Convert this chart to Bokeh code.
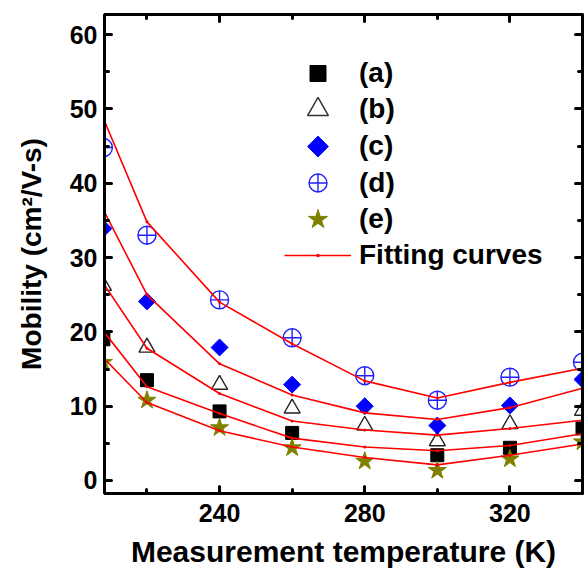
import numpy as np
from bokeh.plotting import figure
from bokeh.models import (LinearAxis, SingleIntervalTicker, Legend, LegendItem,
                          Range1d, ColumnDataSource, CustomLabelingPolicy)
from bokeh.embed import file_html
from bokeh.resources import INLINE

try:
    from bokeh.models import Ngon
except ImportError:
    Ngon = None

# ---- data ----
temperature = [208, 220, 240, 260, 280, 300, 320, 340]
mob_a = [19.0, 13.5, 9.3, 6.4, np.nan, 3.4, 4.4, 7.0]
mob_b = [26.2, 17.9, 12.9, 9.7, 7.4, 5.3, 7.6, 9.4]
mob_c = [33.9, 24.1, 17.9, 12.9, 10.0, 7.4, 10.1, 13.6]
mob_d = [44.8, 33.0, 24.3, 19.2, 14.1, 10.8, 13.9, 15.9]
mob_e = [15.9, 10.8, 7.1, 4.4, 2.6, 1.35, 2.9, 5.2]
fit_a = [20.1, 12.6, 9.0, 5.7, 4.5, 4.0, 4.7, 6.3]
fit_b = [26.5, 17.8, 11.7, 8.0, 6.8, 6.1, 7.0, 8.1]
fit_c = [36.4, 25.0, 15.7, 11.5, 9.1, 8.2, 9.8, 12.4]
fit_d = [48.7, 34.8, 24.0, 18.4, 13.4, 11.1, 13.2, 15.1]
fit_e = [16.5, 10.5, 6.7, 4.5, 3.1, 2.1, 3.4, 4.9]
series_labels = ["(a)", "(b)", "(c)", "(d)", "(e)"]
fit_label = "Fitting curves"
x_title = "Measurement temperature (K)"
y_title = "Mobility (cm\u00b2/V-s)"

FONT = "Liberation Sans"
FRAME_BOTTOM = 493  # px from top of the figure (571 - 78)

p = figure(width=584, height=571, output_backend="svg", toolbar_location=None,
           x_range=Range1d(208.3, 340.0), y_range=Range1d(-1.75, 62.7),
           min_border_left=104, min_border_right=2, min_border_top=14,
           min_border_bottom=78, x_axis_location=None, y_axis_location=None)
p.xgrid.grid_line_color = None
p.ygrid.grid_line_color = None
p.outline_line_color = "black"
p.outline_line_width = 3
p.background_fill_color = "white"
p.border_fill_color = "white"


def style_axis(ax, show_labels):
    ax.axis_line_width = 3
    ax.axis_line_color = "black"
    ax.major_tick_in = 7
    ax.major_tick_out = 0
    ax.minor_tick_in = 4
    ax.minor_tick_out = 0
    ax.major_tick_line_width = 3
    ax.minor_tick_line_width = 3
    ax.major_tick_line_cap = "round"
    ax.minor_tick_line_cap = "round"
    ax.major_label_text_font = FONT
    ax.major_label_text_font_style = "bold"
    ax.major_label_text_color = "black"
    ax.axis_label_text_font = FONT
    ax.axis_label_text_font_style = "bold"
    ax.axis_label_text_color = "black"
    if show_labels:
        ax.major_label_text_font_size = "25px"
    else:
        ax.major_label_text_font_size = "0px"
        ax.major_label_standoff = 0
        ax.major_label_policy = CustomLabelingPolicy(code="return new Set()")


xb = LinearAxis(ticker=SingleIntervalTicker(interval=40, num_minor_ticks=2))
style_axis(xb, True)
xb.major_label_standoff = 10
xb.axis_label = x_title
xb.axis_label_text_font_size = "30px"
xb.axis_label_standoff = 10
p.add_layout(xb, "below")

xt = LinearAxis(ticker=SingleIntervalTicker(interval=40, num_minor_ticks=2))
style_axis(xt, False)
p.add_layout(xt, "above")

yl = LinearAxis(ticker=SingleIntervalTicker(interval=10, num_minor_ticks=2))
style_axis(yl, True)
yl.major_label_standoff = 7
yl.axis_label = y_title
yl.axis_label_text_font_size = "28px"
yl.axis_label_standoff = 20
p.add_layout(yl, "left")

yr = LinearAxis(ticker=SingleIntervalTicker(interval=10, num_minor_ticks=2))
style_axis(yr, False)
p.add_layout(yr, "right")

src = ColumnDataSource(dict(t=temperature, a=mob_a, b=mob_b, c=mob_c, d=mob_d, e=mob_e,
                            fa=fit_a, fb=fit_b, fc=fit_c, fd=fit_d, fe=fit_e))

# plotted markers
r_a = p.scatter("t", "a", source=src, marker="square", size=13,
                fill_color="black", line_color="black")
r_b = p.scatter("t", "b", source=src, marker="triangle", size=16,
                fill_color=None, line_color="#222222", line_width=1.4)
r_c = p.scatter("t", "c", source=src, marker="square", size=12, angle=np.pi / 4,
                fill_color="#0000FF", line_color="#0000FF")
r_d = p.scatter("t", "d", source=src, marker="circle_cross", size=18,
                fill_color=None, line_color="#2020FF", line_width=1.4)
r_e = p.scatter("t", "e", source=src, marker="star", size=19,
                fill_color="#808000", line_color="#808000")

fit_lines = []
fit_dots = []
for col in ["fa", "fb", "fc", "fd", "fe"]:
    ln = p.line("t", col, source=src, line_color="#FF0000", line_width=1.6)
    dt = p.scatter("t", col, source=src, marker="dot", size=12,
                   fill_color="#FF0000", line_color="#FF0000")
    fit_lines.append(ln)
    fit_dots.append(dt)

# legend-only proxies (hidden in the plot area)
lg_a = p.scatter("t", "a", source=src, marker="square", size=13,
                 fill_color="black", line_color="black", line_width=1, visible=False)
lg_b = p.scatter("t", "b", source=src, marker="triangle", size=16,
                 fill_color=None, line_color="#333333", line_width=1.5, visible=False)
lg_c = None
if Ngon is not None:
    try:
        lg_c = p.add_glyph(src, Ngon(x="t", y="c", radius=9, radius_units="screen", n=4,
                                     fill_color="#0000FF", line_color="#0000FF"),
                           visible=False)
    except Exception:
        lg_c = None
if lg_c is None:
    lg_c = p.scatter("t", "c", source=src, marker="diamond", size=18,
                     fill_color="#0000FF", line_color="#0000FF", line_width=2,
                     visible=False)
lg_d = p.scatter("t", "d", source=src, marker="circle_cross", size=18,
                 fill_color=None, line_color="#2020FF", line_width=1.4, visible=False)
lg_e = p.scatter("t", "e", source=src, marker="star", size=19,
                 fill_color="#808000", line_color="#808000", line_width=1, visible=False)

# one small legend per row, so that rows keep the reference pitch while the
# legend symbols keep the reference size
legend_entries = [
    (series_labels[0], [lg_a], 40),
    (series_labels[1], [lg_b], 52),
    (series_labels[2], [lg_c], 52),
    (series_labels[3], [lg_d], 45),
    (series_labels[4], [lg_e], 50),
    (fit_label, [fit_lines[0], fit_dots[0]], 36),
]
ROW0, PITCH = 73, 36.4
for i, (lab, rends, gh) in enumerate(legend_entries):
    centre = ROW0 + PITCH * i
    loc_y = int(round(FRAME_BOTTOM - centre - gh / 2))
    lg = Legend(items=[LegendItem(label=lab, renderers=rends)],
                location=(180, loc_y), orientation="vertical",
                glyph_width=67, glyph_height=gh, label_height=20, spacing=0,
                label_standoff=8, padding=0, margin=0,
                border_line_alpha=0, background_fill_alpha=0,
                label_text_font=FONT, label_text_font_style="bold",
                label_text_font_size="28px", label_text_color="black")
    p.add_layout(lg, "center")

open("out.html", "w").write(file_html(p, INLINE))
